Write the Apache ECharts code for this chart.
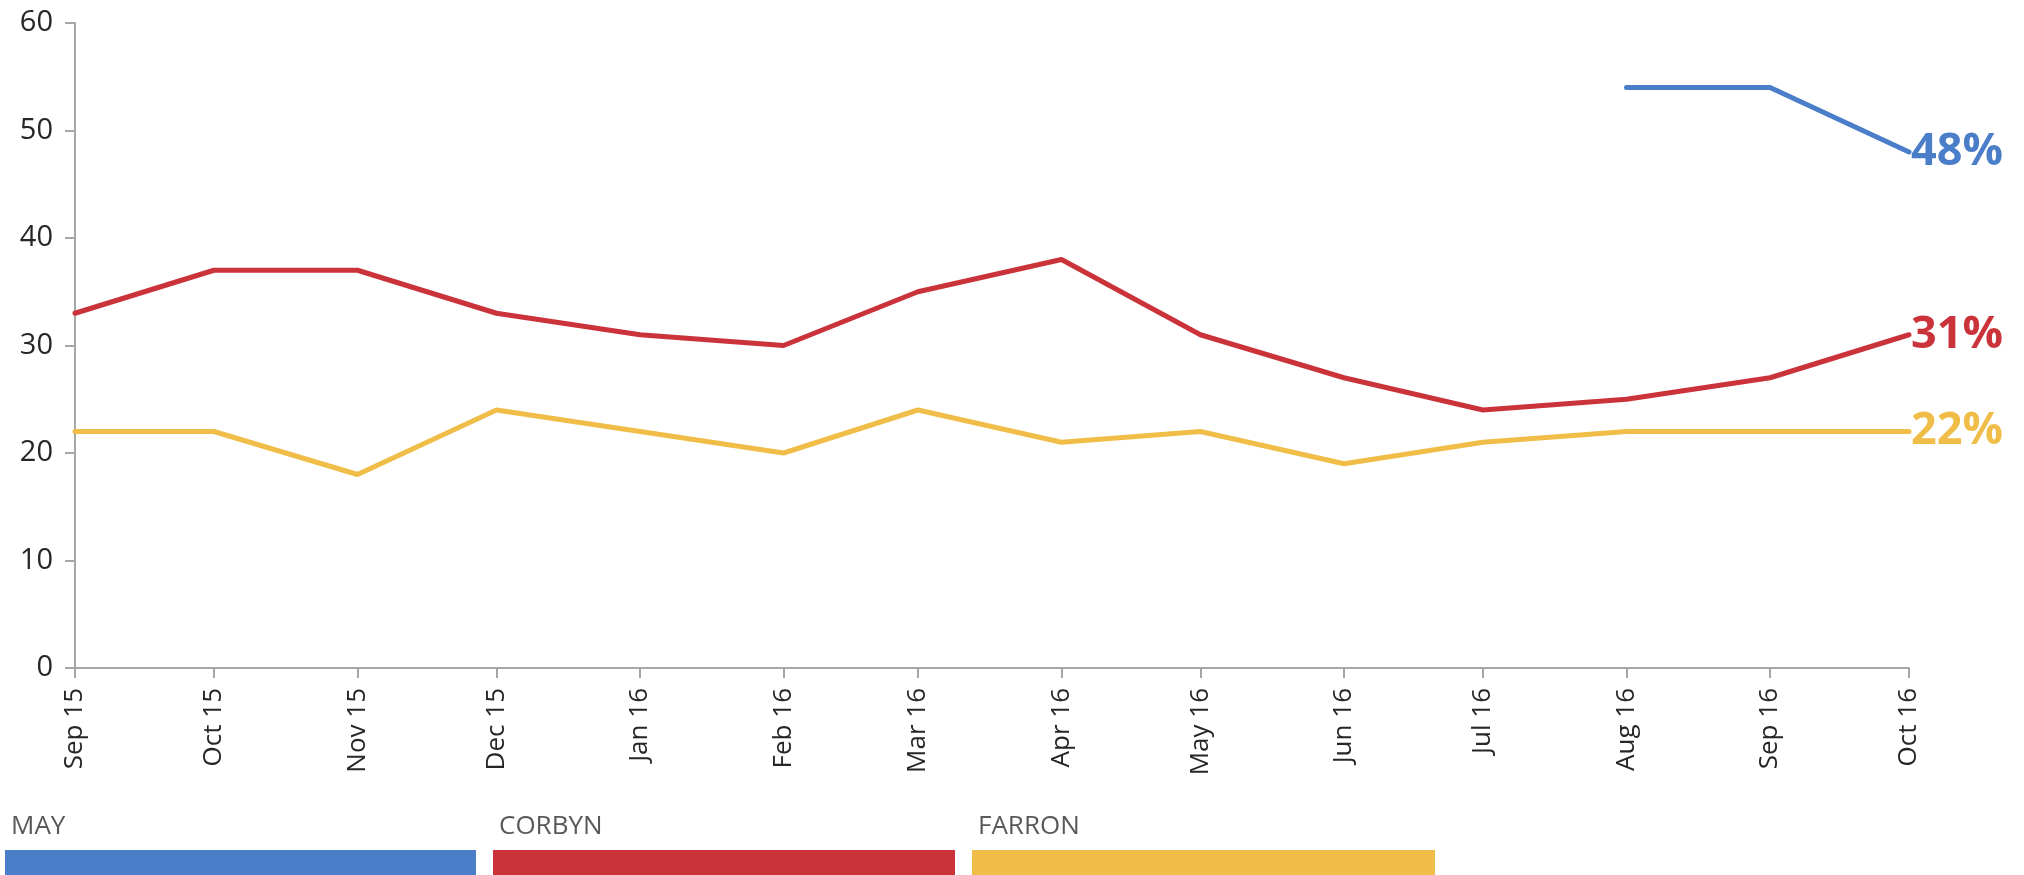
<!DOCTYPE html>
<html>
<head>
<meta charset="utf-8">
<script src="https://cdn.jsdelivr.net/npm/echarts@6/dist/echarts.min.js"></script>
<style>
  html, body { margin: 0; padding: 0; background: #fff; }
  #chart { width: 2024px; height: 875px; }
</style>
</head>
<body>
<div id="chart"></div>
<script>
  // months (first day of each) and their tick labels
  const months = ['2015-09', '2015-10', '2015-11', '2015-12', '2016-01', '2016-02', '2016-03',
                  '2016-04', '2016-05', '2016-06', '2016-07', '2016-08', '2016-09', '2016-10']
  const tickLabels = ['Sep 15', 'Oct 15', 'Nov 15', 'Dec 15', 'Jan 16', 'Feb 16', 'Mar 16',
                      'Apr 16', 'May 16', 'Jun 16', 'Jul 16', 'Aug 16', 'Sep 16', 'Oct 16']

  const mayValues    = [null, null, null, null, null, null, null, null, null, null, null, 54, 54, 48]
  const corbynValues = [33, 37, 37, 33, 31, 30, 35, 38, 31, 27, 24, 25, 27, 31]
  const farronValues = [22, 22, 18, 24, 22, 20, 24, 21, 22, 19, 21, 22, 22, 22]

  const names  = ['MAY', 'CORBYN', 'FARRON']
  const colors = ['#4a7ec9', '#cb333b', '#f0be48']
  const yTicks = [0, 10, 20, 30, 40, 50, 60]

  const font = '"Open Sans", "Noto Sans", sans-serif'

  // month string -> day number since first month (months have unequal length)
  const t0 = Date.UTC(2015, 8, 1)
  const days = months.map(m => {
    let p = m.split('-')
    return Math.round((Date.UTC(+p[0], +p[1] - 1, 1) - t0) / 86400000)
  })

  function toPairs(values) {
    return values.map((v, i) => [days[i], v])
  }

  const seriesValues = [mayValues, corbynValues, farronValues]

  const series = names.map((name, i) => ({
    name: name,
    type: 'line',
    data: toPairs(seriesValues[i]),
    showSymbol: false,
    symbol: 'none',
    connectNulls: false,
    lineStyle: { color: colors[i], width: 5, cap: 'round', join: 'round' },
    itemStyle: { color: colors[i] },
    emphasis: { disabled: true },
    endLabel: {
      show: true,
      distance: 2,
      formatter: p => p.value[1] + '%',
      color: colors[i],
      fontFamily: font,
      fontWeight: 'bold',
      fontSize: 45
    }
  }))

  // legend: label above a wide colour bar
  const legendX = [5, 493, 972]
  const legendW = [471, 462, 463]
  const legendGraphics = []
  names.forEach((name, i) => {
    legendGraphics.push({
      type: 'rect',
      left: legendX[i], top: 850,
      shape: { width: legendW[i], height: 26 },
      style: { fill: colors[i] }
    })
    legendGraphics.push({
      type: 'text',
      left: legendX[i] + 6, top: 814,
      style: { text: name, fill: '#595959', font: '26px ' + font }
    })
  })

  const axisGrey = '#a6a6a6'

  let myChart = echarts.init(document.getElementById('chart'))
  myChart.setOption({
    animation: false,
    grid: { left: 75, right: 115, top: 23, bottom: 207, containLabel: false },
    xAxis: {
      type: 'value',
      min: days[0],
      max: days[days.length - 1],
      axisLine: { lineStyle: { color: axisGrey, width: 2 } },
      axisTick: { show: true, length: 10, lineStyle: { color: axisGrey, width: 2 }, customValues: days },
      axisLabel: {
        customValues: days,
        rotate: 90,
        margin: 20,
        fontSize: 26,
        fontFamily: font,
        color: '#262626',
        formatter: v => {
          let idx = days.indexOf(v)
          return idx >= 0 ? tickLabels[idx] : ''
        }
      },
      splitLine: { show: false }
    },
    yAxis: {
      type: 'value',
      min: yTicks[0],
      max: yTicks[yTicks.length - 1],
      interval: 10,
      axisLine: { show: true, lineStyle: { color: axisGrey, width: 2 } },
      axisTick: { show: true, length: 10, lineStyle: { color: axisGrey, width: 2 } },
      axisLabel: { fontSize: 29, fontFamily: font, color: '#262626', margin: 22 },
      splitLine: { show: false }
    },
    graphic: legendGraphics,
    series: series
  })
</script>
</body>
</html>
